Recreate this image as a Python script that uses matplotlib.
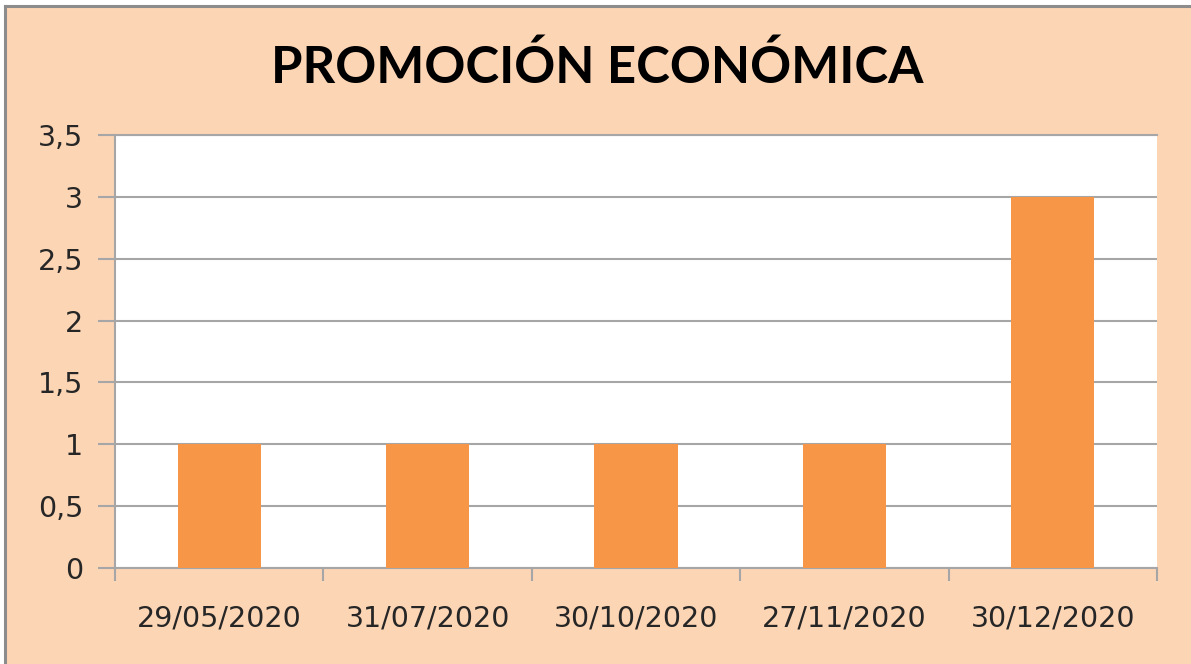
import matplotlib.pyplot as plt
from matplotlib.lines import Line2D
from matplotlib.patches import Rectangle
from matplotlib.ticker import FixedLocator, FuncFormatter

# --- datos ---
fechas = ["29/05/2020", "31/07/2020", "30/10/2020", "27/11/2020", "30/12/2020"]
valores = [1, 1, 1, 1, 3]
y_ticks = [0, 0.5, 1, 1.5, 2, 2.5, 3, 3.5]
titulo = "PROMOCIÓN ECONÓMICA"

FONDO = "#FCD5B5"
BARRA = "#F79646"
GRIS = "#A6A6A6"
TEXTO = "#262626"

fig = plt.figure(figsize=(11.91, 6.64), dpi=100, facecolor="white")

# marco melocotón; borde gris solo arriba e izquierda (captura recortada)
W, H = 1191, 664
x0, y0 = 5 / W, 1 - 6 / H
fig.patches.append(Rectangle((x0, 0), 1 - x0, y0, transform=fig.transFigure,
                             facecolor=FONDO, edgecolor="none", zorder=-5))
fig.lines.append(Line2D([x0, x0], [0, y0], transform=fig.transFigure,
                        color="#8C8C8C", linewidth=2.2))
fig.lines.append(Line2D([x0, 1], [y0, y0], transform=fig.transFigure,
                        color="#8C8C8C", linewidth=2.2))

ax = fig.add_axes([115 / W, 1 - 568 / H, (1157 - 115) / W, (568 - 135) / H])
ax.set_zorder(2)
ax.set_facecolor("white")

x = list(range(len(fechas)))
ax.bar(x, valores, width=0.4, color=BARRA, zorder=3)

ax.set_xlim(-0.5, len(fechas) - 0.5)
ax.set_ylim(0, 3.5)

ax.yaxis.set_major_locator(FixedLocator(y_ticks))
ax.yaxis.set_major_formatter(FuncFormatter(lambda v, p: f"{v:g}".replace(".", ",")))
ax.grid(axis="y", color=GRIS, linewidth=1.5, zorder=1)

ax.set_xticks(x)
ax.set_xticklabels(fechas)
ax.xaxis.set_minor_locator(FixedLocator([i - 0.5 for i in range(len(fechas) + 1)]))
ax.tick_params(axis="x", which="major", length=0, pad=26, labelsize=20.5, labelcolor=TEXTO)
ax.tick_params(axis="x", which="minor", length=9, width=1.5, color=GRIS, direction="out")
ax.tick_params(axis="y", length=12, width=1.5, color=GRIS, pad=11, labelsize=20.5, labelcolor=TEXTO)

ax.spines["right"].set_visible(False)
for s in ["left", "bottom", "top"]:
    ax.spines[s].set_color(GRIS)
    ax.spines[s].set_linewidth(1.5)

fig.text(0.5017, 1 - 68 / H, titulo, ha="center", va="center",
         fontsize=36.6, fontweight="bold", family="Lato", color="black", zorder=3)

plt.savefig("out.png", dpi=100, facecolor=fig.get_facecolor())
